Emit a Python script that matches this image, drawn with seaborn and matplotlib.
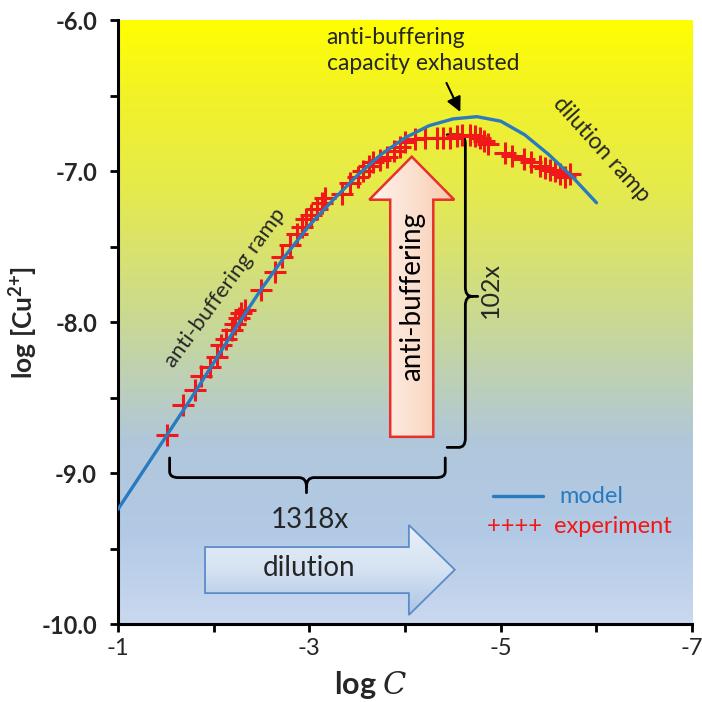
import numpy as np
import matplotlib
matplotlib.use('Agg')
import matplotlib.pyplot as plt
import seaborn as sns
from matplotlib.colors import LinearSegmentedColormap
from matplotlib.patches import Polygon, PathPatch
from matplotlib.path import Path

# model curve
model_logc = [-1.0, -1.25, -1.5, -1.75, -2.0, -2.25, -2.5, -2.75, -3.0, -3.25, -3.5,
              -3.75, -4.0, -4.25, -4.5, -4.75, -5.0, -5.25, -5.5, -5.75, -6.0]
model_logcu = [-9.24, -9.00, -8.76, -8.52, -8.27, -8.02, -7.78, -7.56, -7.36, -7.19, -7.03,
               -6.89, -6.78, -6.70, -6.655, -6.64, -6.67, -6.76, -6.89, -7.04, -7.21]

# experiment points
exp_logc = [-1.51, -1.68, -1.80, -1.87, -1.96, -2.03, -2.08, -2.13, -2.19, -2.22, -2.26,
            -2.29, -2.33, -2.50, -2.64, -2.71, -2.80, -2.87, -2.92, -2.97, -3.02, -3.08,
            -3.13, -3.16, -3.34, -3.42, -3.51, -3.56, -3.62, -3.67, -3.74, -3.81, -3.88,
            -3.95, -4.00, -4.10, -4.21, -4.33, -4.40, -4.47, -4.54, -4.59, -4.68, -4.73,
            -4.78, -4.82, -4.87, -5.04, -5.12, -5.24, -5.32, -5.41, -5.46, -5.51, -5.57,
            -5.62, -5.67, -5.72]
exp_logcu = [-8.75, -8.55, -8.45, -8.36, -8.30, -8.23, -8.15, -8.11, -8.05, -8.01, -7.97,
             -7.94, -7.92, -7.79, -7.67, -7.57, -7.49, -7.42, -7.37, -7.32, -7.29, -7.25,
             -7.21, -7.18, -7.15, -7.08, -7.04, -7.00, -6.97, -6.94, -6.93, -6.91, -6.87,
             -6.84, -6.81, -6.79, -6.78, -6.78, -6.78, -6.78, -6.77, -6.76, -6.76, -6.77,
             -6.78, -6.80, -6.82, -6.88, -6.90, -6.92, -6.94, -6.97, -6.98, -6.99, -7.00,
             -7.02, -7.04, -7.02]

x_ticks = [-1, -2, -3, -4, -5, -6, -7]
x_ticklabels = ['-1', '', '-3', '', '-5', '', '-7']
y_ticks = [-10, -9, -8, -7, -6]

sns.set_theme(style='white')
plt.rcParams['font.family'] = ['Lato', 'DejaVu Sans']
plt.rcParams['mathtext.fontset'] = 'custom'
plt.rcParams['mathtext.rm'] = 'Lato'
plt.rcParams['mathtext.bf'] = 'Lato:bold'
plt.rcParams['mathtext.it'] = 'DejaVu Serif:italic'
plt.rcParams['mathtext.default'] = 'bf'

fig = plt.figure(figsize=(7.02, 7.02), dpi=100)
ax = fig.add_axes([0.168, 0.111, 0.818, 0.8605])

# background gradient: blue at bottom -> yellow at top
bg_cmap = LinearSegmentedColormap.from_list('bg', [
    (0.00, (0.79, 0.85, 0.94)),
    (0.15, (0.70, 0.79, 0.90)),
    (0.30, (0.69, 0.78, 0.86)),
    (0.50, (0.79, 0.85, 0.58)),
    (0.72, (0.90, 0.92, 0.30)),
    (0.88, (0.95, 0.95, 0.15)),
    (1.00, (1.00, 1.00, 0.00)),
])
grad = np.linspace(0, 1, 256).reshape(-1, 1)
ax.imshow(grad, extent=(-1, -7, -10, -6), origin='lower', aspect='auto',
          cmap=bg_cmap, zorder=0)

# up arrow "anti-buffering"
cx = -4.07
up_verts = [(cx + 0.225, -8.76), (cx + 0.225, -7.19), (cx + 0.444, -7.19), (cx, -6.905),
            (cx - 0.444, -7.19), (cx - 0.225, -7.19), (cx - 0.225, -8.76)]
up = Polygon(up_verts, closed=True, facecolor='none', edgecolor='#E8302A', lw=1.8, zorder=4)
ax.add_patch(up)
peach = LinearSegmentedColormap.from_list('peach', ['#FFF3EC', '#FBE0D0', '#F8C9AC'])
im = ax.imshow(np.linspace(0, 1, 256).reshape(1, -1), extent=(cx + 0.45, cx - 0.45, -8.8, -6.9),
               aspect='auto', cmap=peach, zorder=3.9)
im.set_clip_path(up)
ax.text(cx, -7.83, 'anti-buffering', rotation=90, ha='center', va='center',
        fontsize=20, color='black', zorder=5)

# right arrow "dilution"
dil_verts = [(-1.91, -9.49), (-4.04, -9.49), (-4.04, -9.344), (-4.52, -9.64),
             (-4.04, -9.94), (-4.04, -9.795), (-1.91, -9.795)]
dil = Polygon(dil_verts, closed=True, facecolor='none', edgecolor='#5B8CC8', lw=1.3, zorder=4)
ax.add_patch(dil)
blue = LinearSegmentedColormap.from_list('blu', ['#A9C2E3', '#D5E2F2', '#EAF1F9'])
im2 = ax.imshow(np.linspace(0, 1, 256).reshape(-1, 1), extent=(-1.9, -4.55, -9.95, -9.33),
                origin='lower', aspect='auto', cmap=blue, zorder=3.9)
im2.set_clip_path(dil)
ax.text(-3.0, -9.63, 'dilution', ha='center', va='center', fontsize=20, zorder=5)

# braces
def brace(verts, codes):
    ax.add_patch(PathPatch(Path(verts, codes), facecolor='none', edgecolor='black',
                           lw=2.0, zorder=4, capstyle='round'))

M, L, C = Path.MOVETO, Path.LINETO, Path.CURVE3
brace([(-1.54, -8.90), (-1.54, -8.99), (-1.54, -9.03), (-1.63, -9.03),
       (-2.89, -9.03), (-2.97, -9.03), (-2.97, -9.09), (-2.97, -9.13),
       (-2.97, -9.09), (-2.97, -9.03), (-3.05, -9.03),
       (-4.33, -9.03), (-4.42, -9.03), (-4.42, -8.99), (-4.42, -8.90)],
      [M, L, C, C, L, C, C, L, M, C, C, L, C, C, L])
brace([(-4.44, -6.76), (-4.56, -6.76), (-4.63, -6.76), (-4.63, -6.82),
       (-4.63, -7.77), (-4.63, -7.83), (-4.70, -7.83), (-4.76, -7.83),
       (-4.70, -7.83), (-4.63, -7.83), (-4.63, -7.89),
       (-4.63, -8.77), (-4.63, -8.83), (-4.56, -8.83), (-4.44, -8.83)],
      [M, L, C, C, L, C, C, L, M, C, C, L, C, C, L])
ax.text(-3.0, -9.31, '1318x', ha='center', va='center', fontsize=20, zorder=5)
ax.text(-4.89, -7.79, '102x', rotation=90, ha='center', va='center', fontsize=18, zorder=5)

# data
sns.lineplot(x=model_logc, y=model_logcu, color='#2A7AC0', lw=2.4, ax=ax, zorder=6)
sns.scatterplot(x=exp_logc, y=exp_logcu, marker='+', s=270, color='#F01818',
                linewidth=2.2, ax=ax, zorder=5)

# annotations
ax.text(-3.18, -6.20, 'anti-buffering\ncapacity exhausted', ha='left', va='center',
        fontsize=16.5, linespacing=1.3)
ax.annotate('', xy=(-4.59, -6.625), xytext=(-4.42, -6.40),
            arrowprops=dict(arrowstyle='-|>', color='black', lw=1.5, mutation_scale=22))
ax.text(-6.05, -6.86, 'dilution ramp', rotation=-48, ha='center', va='center', fontsize=16.5)
ax.text(-2.12, -7.77, 'anti-buffering ramp', rotation=54, ha='center', va='center', fontsize=16)

# legend drawn by hand
ax.plot([0.653, 0.740], [0.212, 0.212], transform=ax.transAxes, color='#2A7AC0', lw=2.4)
ax.text(0.768, 0.212, 'model', transform=ax.transAxes, ha='left', va='center',
        fontsize=17, color='#2A7AC0')
ax.text(0.643, 0.162, '++++  experiment', transform=ax.transAxes, ha='left', va='center',
        fontsize=17, color='#F01818')

# axes styling
ax.set_xlim(-1, -7)
ax.set_ylim(-10, -6)
ax.set_xticks(x_ticks)
ax.set_xticklabels(x_ticklabels, fontsize=17)
ax.set_yticks(y_ticks)
ax.set_yticklabels([f'{v:.1f}' for v in y_ticks], fontsize=17, fontweight='bold')
ax.set_yticks([-9.5, -8.5, -7.5, -6.5], minor=True)
ax.tick_params(axis='both', which='both', direction='out', length=6, width=2,
               color='black', left=True, bottom=True)
ax.tick_params(axis='y', which='major', pad=9)
ax.tick_params(axis='x', which='major', pad=4)
for side in ['top', 'right']:
    ax.spines[side].set_visible(False)
for side in ['left', 'bottom']:
    ax.spines[side].set_color('black')
    ax.spines[side].set_linewidth(2.2)
ax.grid(False)
ax.set_ylabel(r'log [Cu$^{2{+}}$]', fontsize=19, fontweight='bold')
ax.set_xlabel(r'log $\mathit{C}$', fontsize=22, fontweight='bold')
ax.yaxis.set_label_coords(-0.135, 0.5)
ax.xaxis.set_label_coords(0.44, -0.075)

plt.savefig('out.png', dpi=100)
